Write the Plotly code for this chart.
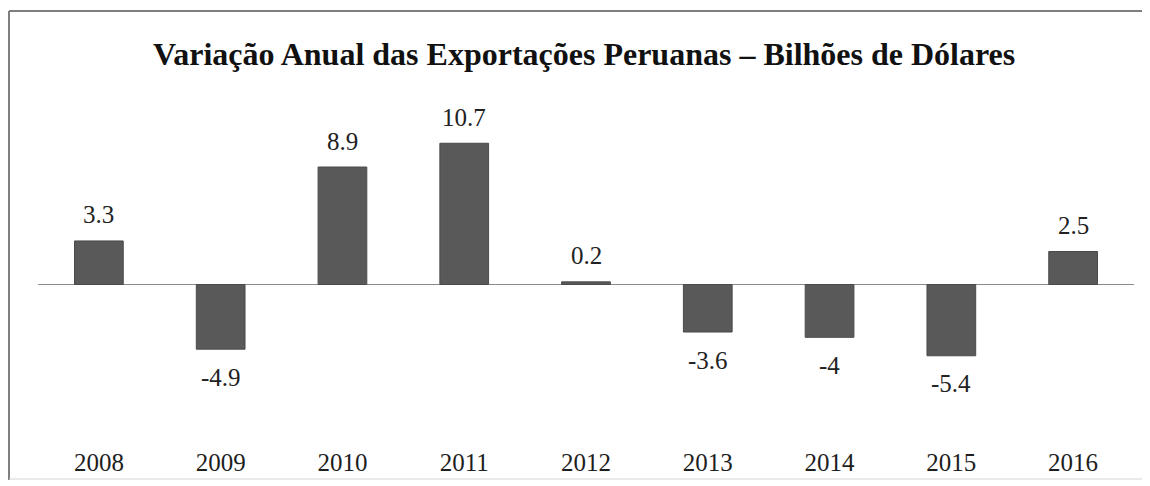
import plotly.graph_objects as go

years = ["2008", "2009", "2010", "2011", "2012", "2013", "2014", "2015", "2016"]
values = [3.3, -4.9, 8.9, 10.7, 0.2, -3.6, -4, -5.4, 2.5]
labels = ["3.3", "-4.9", "8.9", "10.7", "0.2", "-3.6", "-4", "-5.4", "2.5"]
title = "Variação Anual das Exportações Peruanas – Bilhões de Dólares"

serif = "Liberation Serif, Times New Roman, serif"

W, H = 1150, 486
L, R, T, B = 30, 24, 87, 49
PW, PH = W - L - R, H - T - B


def px(x):
    return (x - L) / PW


def py(y):
    return (H - B - y) / PH


fig = go.Figure()
fig.add_trace(go.Bar(
    x=years, y=values,
    marker=dict(color="#595959", line=dict(color="#4a4a4a", width=1)),
    hoverinfo="x+y",
))

annotations = []
for i, (v, lab) in enumerate(zip(values, labels)):
    annotations.append(dict(
        x=i, y=v, xref="x", yref="y", text=lab, showarrow=False,
        yshift=26 if v >= 0 else -28,
        font=dict(family=serif, size=25, color="#222222"),
    ))
annotations.append(dict(
    x=px(576), y=py(46), xref="paper", yref="paper",
    xanchor="center", yanchor="middle",
    text="<b>" + title + "</b>", showarrow=False,
    font=dict(family=serif, size=32, color="#111111"),
))

shapes = [
    dict(type="line", xref="paper", yref="paper", x0=px(1), x1=px(1), y0=py(3), y1=py(472),
         line=dict(color="#7f7f7f", width=2)),
    dict(type="line", xref="paper", yref="paper", x0=px(1), x1=px(1140), y0=py(3), y1=py(3),
         line=dict(color="#7f7f7f", width=2)),
    dict(type="line", xref="paper", yref="paper", x0=px(1135), x1=px(1135), y0=py(3), y1=py(472),
         line=dict(color="#d4d4d4", width=1)),
    dict(type="line", xref="paper", yref="paper", x0=px(1), x1=px(1135), y0=py(471), y1=py(471),
         line=dict(color="#d4d4d4", width=1)),
]

zero_px = 276.5
scale = 13.2
fig.update_layout(
    width=W, height=H,
    margin=dict(l=L, r=R, t=T, b=B),
    paper_bgcolor="white", plot_bgcolor="white",
    bargap=0.6,
    showlegend=False,
    annotations=annotations,
    shapes=shapes,
    xaxis=dict(
        type="category", range=[-0.5, len(years) - 0.5],
        showline=False, showgrid=False, ticks="",
        tickfont=dict(family=serif, size=25, color="#1e1e1e"),
    ),
    yaxis=dict(
        range=[-(H - B - zero_px) / scale, (zero_px - T) / scale],
        showgrid=False, showticklabels=False,
        zeroline=True, zerolinecolor="#8a8a8a", zerolinewidth=1,
    ),
)

fig.write_html("out.html")
